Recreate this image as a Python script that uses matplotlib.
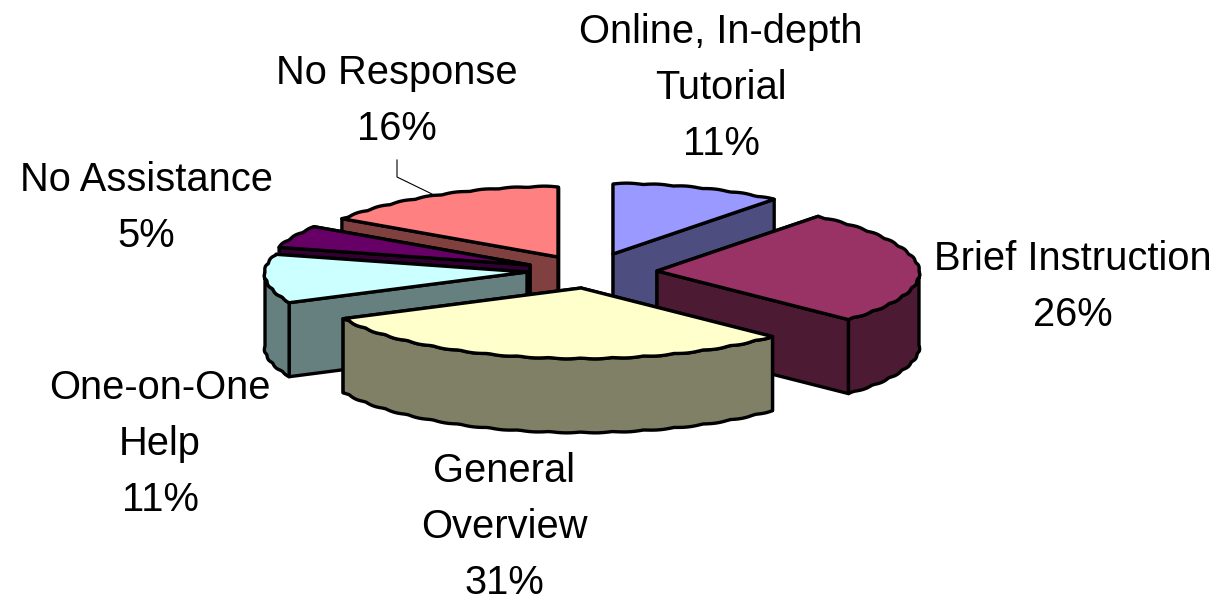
import numpy as np
import matplotlib
matplotlib.use('Agg')
import matplotlib.pyplot as plt
from matplotlib.patches import Polygon

# slices clockwise from 12 o'clock
categories = ['Online, In-depth\nTutorial', 'Brief Instruction', 'General\nOverview',
              'One-on-One\nHelp', 'No Assistance', 'No Response']
values = [11, 26, 31, 11, 5, 16]

top_colors = ['#9999FF', '#993366', '#FFFFCC', '#CCFFFF', '#660066', '#FF8080']
wall_colors = ['#4D4D80', '#4D1A33', '#808066', '#668080', '#330033', '#804040']

# exploded apex of every slice, in pixels
apex_x = [613, 657, 581, 527, 530, 558]
apex_y = [254, 271, 288, 272, 265, 257]
label_x = [721, 1073, 504, 160, 146, 397]
label_y = [88, 287, 527, 444, 208, 101]

rx, ry, depth = 262, 70, 74
lw = 2.4


def rim(a0, a1, x0, y0):
    t = np.radians(np.arange(a0, a1, 1.0).tolist() + [a1])
    wob = np.abs(np.sin(t * 26)) * 1.0
    dy = np.cos(t) * ry
    # back of the pie is a bit narrower, perspective
    sx = 1 - 0.0007 * np.clip(dy, 0, None)
    return x0 + np.sin(t) * (rx * sx + wob), y0 - dy - wob * np.sign(np.cos(t))


def poly(ax, xs, ys, color):
    ax.add_patch(Polygon(np.column_stack([xs, ys]), closed=True, fc=color, ec='black',
                         lw=lw, joinstyle='round'))


fig = plt.figure(figsize=(12.19, 6.02), dpi=100)
ax = fig.add_axes([0, 0, 1, 1])
ax.set_xlim(0, 1219)
ax.set_ylim(602, 0)
ax.axis('off')

angles = np.cumsum([0] + values) * 3.6
order = [0, 5, 4, 3, 1, 2]  # back to front

for i in order:
    a0, a1 = angles[i], angles[i + 1]
    x0, y0 = apex_x[i], apex_y[i]
    xs, ys = rim(a0, a1, x0, y0)

    # cut faces, the back one first
    ends = sorted([(xs[0], ys[0]), (xs[-1], ys[-1])], key=lambda p: p[1])
    for ex, ey in ends:
        poly(ax, [x0, ex, ex, x0], [y0, ey, ey + depth, y0 + depth], wall_colors[i])

    # outer wall, only the part facing the viewer
    w0, w1 = max(a0, 90), min(a1, 270)
    if w1 > w0:
        wx, wy = rim(w0, w1, x0, y0)
        poly(ax, np.r_[wx, wx[::-1]], np.r_[wy, wy[::-1] + depth], wall_colors[i])

    poly(ax, np.r_[x0, xs], np.r_[y0, ys], top_colors[i])

    ax.text(label_x[i], label_y[i], f'{categories[i]}\n{values[i]}%', ha='center', va='center',
            family='Liberation Sans', fontsize=28.7, linespacing=1.6, color='black')

# leader line for No Response
ax.plot([397, 397, 432], [160, 177, 194], color='black', lw=0.8)

fig.savefig('out.png', dpi=100)
